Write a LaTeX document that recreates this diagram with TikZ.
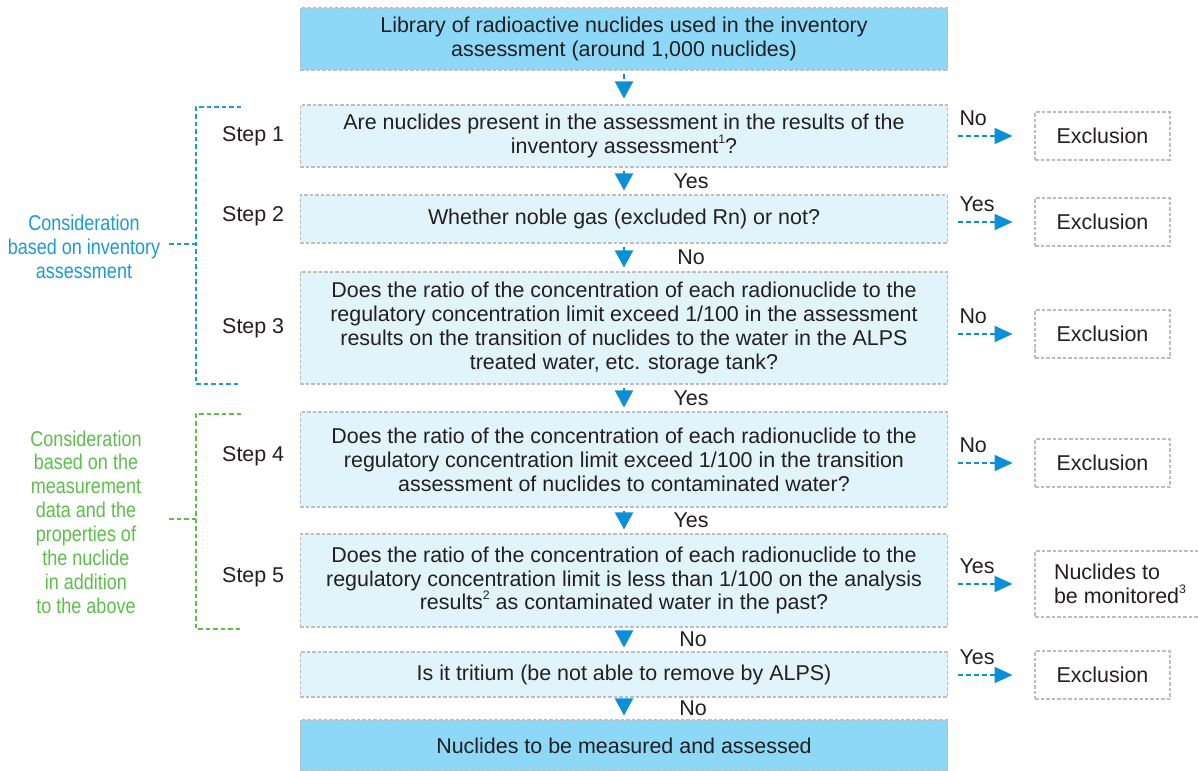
\documentclass[tikz,border=0pt]{standalone}
\usepackage{fontspec}
\setmainfont{Liberation Sans}
\newfontfamily\condfont[FakeStretch=0.84]{Liberation Sans}
\usetikzlibrary{arrows.meta}

\definecolor{deepfill}{HTML}{8DD7F7}
\definecolor{palefill}{HTML}{E1F3FB}
\definecolor{edgegray}{HTML}{BDBDBD}
\definecolor{arrowblue}{HTML}{0B8FD6}
\definecolor{invblue}{HTML}{1B9AD6}
\definecolor{measgreen}{HTML}{5CBF4A}
\definecolor{textgray}{HTML}{231F20}

\newcommand{\fnote}[1]{\raisebox{0.9ex}{\fontsize{7pt}{7pt}\selectfont #1}}

\begin{document}
\begin{tikzpicture}[x=0.02cm,y=-0.02cm]

\tikzstyle{qbox} = [rectangle, draw=edgegray, line width=0.6pt, dash pattern=on 0.07cm off 0.04cm, fill=palefill, text=textgray, align=center, minimum width=12.96cm, inner sep=0pt]
\tikzstyle{endbox} = [qbox, fill=deepfill]
\tikzstyle{exbox} = [rectangle, draw=edgegray, line width=0.6pt, dash pattern=on 0.07cm off 0.04cm, fill=white, text=textgray, minimum width=2.7cm, minimum height=0.96cm]
\tikzstyle{down} = [-{Triangle[length=0.34cm,width=0.36cm]}, arrowblue, line width=1.2pt, shorten <=0.06cm, shorten >=0.08cm]
\tikzstyle{side} = [-{Triangle[length=0.36cm,width=0.32cm]}, arrowblue, line width=1.2pt, dash pattern=on 0.1cm off 0.06cm, shorten <=0.2cm, shorten >=0.44cm]
\tikzstyle{answer} = [text=textgray, inner sep=0pt]
\tikzstyle{steplabel} = [anchor=east, inner sep=0pt, xshift=-0.3cm, text=textgray]
\tikzstyle{bracket} = [line width=0.9pt, dash pattern=on 0.09cm off 0.06cm]

\def \fsize{\fontsize{12.2pt}{13.6pt}\selectfont}

\useasboundingbox (0,0) rectangle (1198,771);

%Library at the top
\node[endbox, minimum height=1.24cm, font=\fsize](lib) at (624,39){Library of radioactive nuclides used in the inventory\\assessment (around 1,000 nuclides)};

%Questions
\node[qbox, minimum height=1.24cm, font=\fsize](s1) at (624,136){Are nuclides present in the assessment in the results of the\\inventory assessment\fnote{1}?};
\node[qbox, minimum height=0.96cm, font=\fsize](s2) at (624,219){Whether noble gas (excluded Rn) or not?};
\node[qbox, minimum height=2.24cm, font=\fsize](s3) at (624,328){Does the ratio of the concentration of each radionuclide to the\\regulatory concentration limit exceed 1/100 in the assessment\\results on the transition of nuclides to the water in the ALPS\\treated water, etc. storage tank?};
\node[qbox, minimum height=1.9cm, font=\fsize](s4) at (624,459.5){Does the ratio of the concentration of each radionuclide to the\\regulatory concentration limit exceed 1/100 in the transition\\assessment of nuclides to contaminated water?};
\node[qbox, minimum height=1.86cm, font=\fsize](s5) at (624,580.5){Does the ratio of the concentration of each radionuclide to the\\regulatory concentration limit is less than 1/100 on the analysis\\results\fnote{2} as contaminated water in the past?};
\node[qbox, minimum height=0.9cm, font=\fsize](s6) at (624,674.5){Is it tritium (be not able to remove by ALPS)};

%Final result at the bottom
\node[endbox, minimum height=1.02cm, font=\fsize](meas) at (624,745.5){Nuclides to be measured and assessed};

%Step labels
\node[steplabel, font=\fsize] at (s1.west){Step 1};
\node[steplabel, font=\fsize] at ([yshift=0.06cm]s2.west){Step 2};
\node[steplabel, font=\fsize] at (s3.west){Step 3};
\node[steplabel, font=\fsize] at ([yshift=0.07cm]s4.west){Step 4};
\node[steplabel, font=\fsize] at ([yshift=0.07cm]s5.west){Step 5};

%Downward arrows
\draw[down, dash pattern=on 0.1cm off 0.06cm, shorten >=0.12cm] (lib.south) -- (s1.north);
\draw[down] (s1.south) -- (s2.north) node[answer, midway, xshift=1.34cm, font=\fsize]{Yes};
\draw[down] (s2.south) -- (s3.north) node[answer, midway, xshift=1.34cm, font=\fsize]{No};
\draw[down] (s3.south) -- (s4.north) node[answer, midway, xshift=1.34cm, font=\fsize]{Yes};
\draw[down] (s4.south) -- (s5.north) node[answer, midway, xshift=1.34cm, font=\fsize]{Yes};
\draw[down] (s5.south) -- (s6.north) node[answer, midway, xshift=1.38cm, font=\fsize]{No};
\draw[down] (s6.south) -- (meas.north) node[answer, midway, xshift=1.38cm, font=\fsize]{No};

%Exclusion boxes on the right
\node[exbox, font=\fsize](ex1) at (1102.5,136){Exclusion};
\node[exbox, font=\fsize](ex2) at (1102.5,222){Exclusion};
\node[exbox, font=\fsize](ex3) at (1102.5,334){Exclusion};
\node[exbox, font=\fsize](ex4) at (1102.5,463){Exclusion};
\node[exbox, font=\fsize, minimum width=3.4cm, minimum height=1.32cm, align=left](mon) at (1120,584){Nuclides to\\be monitored\fnote{3}};
\node[exbox, font=\fsize](ex6) at (1102.5,675){Exclusion};

%Side arrows
\draw[side] (s1.east |- ex1.west) -- (ex1.west) node[answer, pos=0, anchor=base west, xshift=0.2cm, yshift=0.22cm, font=\fsize]{No};
\draw[side] (s2.east |- ex2.west) -- (ex2.west) node[answer, pos=0, anchor=base west, xshift=0.2cm, yshift=0.22cm, font=\fsize]{Yes};
\draw[side] (s3.east |- ex3.west) -- (ex3.west) node[answer, pos=0, anchor=base west, xshift=0.2cm, yshift=0.22cm, font=\fsize]{No};
\draw[side] (s4.east |- ex4.west) -- (ex4.west) node[answer, pos=0, anchor=base west, xshift=0.2cm, yshift=0.22cm, font=\fsize]{No};
\draw[side] (s5.east |- mon.west) -- (mon.west) node[answer, pos=0, anchor=base west, xshift=0.2cm, yshift=0.22cm, font=\fsize]{Yes};
\draw[side] (s6.east |- ex6.west) -- (ex6.west) node[answer, pos=0, anchor=base west, xshift=0.2cm, yshift=0.22cm, font=\fsize]{Yes};

%Bracket for the inventory assessment
\coordinate (invtop) at (241,107);
\coordinate (invbot) at (241,384);
\coordinate (invmid) at (196,244);
\draw[bracket, invblue] (invtop) -- (196,107) -- (196,384) -- (invbot);
\draw[bracket, invblue] (invmid) -- +(-27,0) coordinate (invtick);
\node[text=invblue, align=center, font=\condfont\fsize](inv) at (84,247){Consideration\\based on inventory\\assessment};

%Bracket for the measurement data
\coordinate (meatop) at (241,414);
\coordinate (meabot) at (241,629);
\coordinate (meamid) at (196,519);
\draw[bracket, measgreen] (meatop) -- (196,414) -- (196,629) -- (meabot);
\draw[bracket, measgreen] (meamid) -- +(-27,0) coordinate (meatick);
\node[text=measgreen, align=center, font=\condfont\fsize](mea) at (86,522){Consideration\\based on the\\measurement\\data and the\\properties of\\the nuclide\\in addition\\to the above};

\end{tikzpicture}
\end{document}
